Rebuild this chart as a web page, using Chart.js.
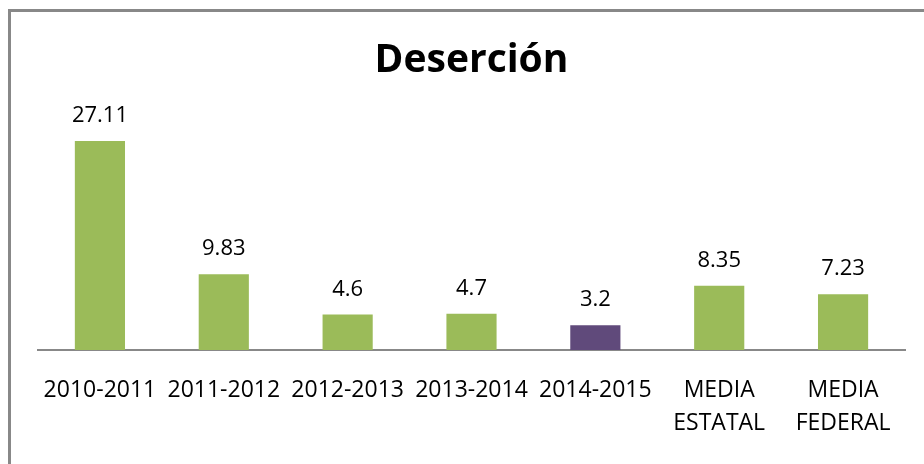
<!DOCTYPE html>
<html>
<head>
<meta charset="utf-8">
<script src="https://cdn.jsdelivr.net/npm/chart.js@4.4.1/dist/chart.umd.min.js"></script>
<style>
  html, body { margin: 0; padding: 0; background: #fff; overflow: hidden; }
  #wrap { position: absolute; left: 0; top: 0; width: 924px; height: 464px; }
  #frame { position: absolute; left: 8px; top: 9px; width: 960px; height: 500px;
           border: 3px solid #888; box-sizing: border-box; }
</style>
</head>
<body>
<div id="wrap">
  <div id="frame"></div>
  <canvas id="graphic" width="924" height="464"></canvas>
</div>
<script>
const periodos = [
  "2010-2011",
  "2011-2012",
  "2012-2013",
  "2013-2014",
  "2014-2015",
  ["MEDIA", "ESTATAL"],
  ["MEDIA", "FEDERAL"],
];
const desercion = [27.11, 9.83, 4.6, 4.7, 3.2, 8.35, 7.23];
const colores = ["#9bbb59", "#9bbb59", "#9bbb59", "#9bbb59", "#604a7b", "#9bbb59", "#9bbb59"];

const fuente = "'Open Sans', sans-serif";

// etiquetas de valor encima de cada barra
const etiquetas = {
  id: "etiquetas",
  afterDatasetsDraw(chart) {
    const ctx = chart.ctx;
    const meta = chart.getDatasetMeta(0);
    ctx.save();
    ctx.font = "22px " + fuente;
    ctx.fillStyle = "#000";
    ctx.textAlign = "center";
    ctx.textBaseline = "alphabetic";
    meta.data.forEach((bar, i) => {
      ctx.fillText(String(desercion[i]), bar.x, bar.y - 19);
    });
    ctx.restore();
  },
};

window.myChart = new Chart(document.getElementById("graphic"), {
  type: "bar",
  data: {
    labels: periodos,
    datasets: [
      {
        label: "Deserción",
        data: desercion,
        backgroundColor: colores,
        barPercentage: 0.5,
        categoryPercentage: 0.81,
      },
    ],
  },
  options: {
    responsive: false,
    animation: false,
    layout: {
      padding: { left: 38, right: 19, top: 0, bottom: 0 },
    },
    plugins: {
      legend: { display: false },
      tooltip: { enabled: false },
      title: {
        display: true,
        text: "Deserción",
        color: "#000",
        font: { family: fuente, size: 39, weight: "bold", lineHeight: 1.2 },
        padding: { top: 37, bottom: 35 },
      },
    },
    scales: {
      x: {
        grid: { display: false, drawTicks: false },
        border: { display: true, color: "#888", width: 2 },
        ticks: {
          color: "#000",
          padding: 24,
          maxRotation: 0,
          autoSkip: false,
          font: { family: fuente, size: 23, lineHeight: 1.42 },
        },
        afterFit(scale) { scale.height = 464 - 350; },
      },
      y: {
        display: false,
        min: 0,
        max: 30,
      },
    },
  },
  plugins: [etiquetas],
});
</script>
</body>
</html>
